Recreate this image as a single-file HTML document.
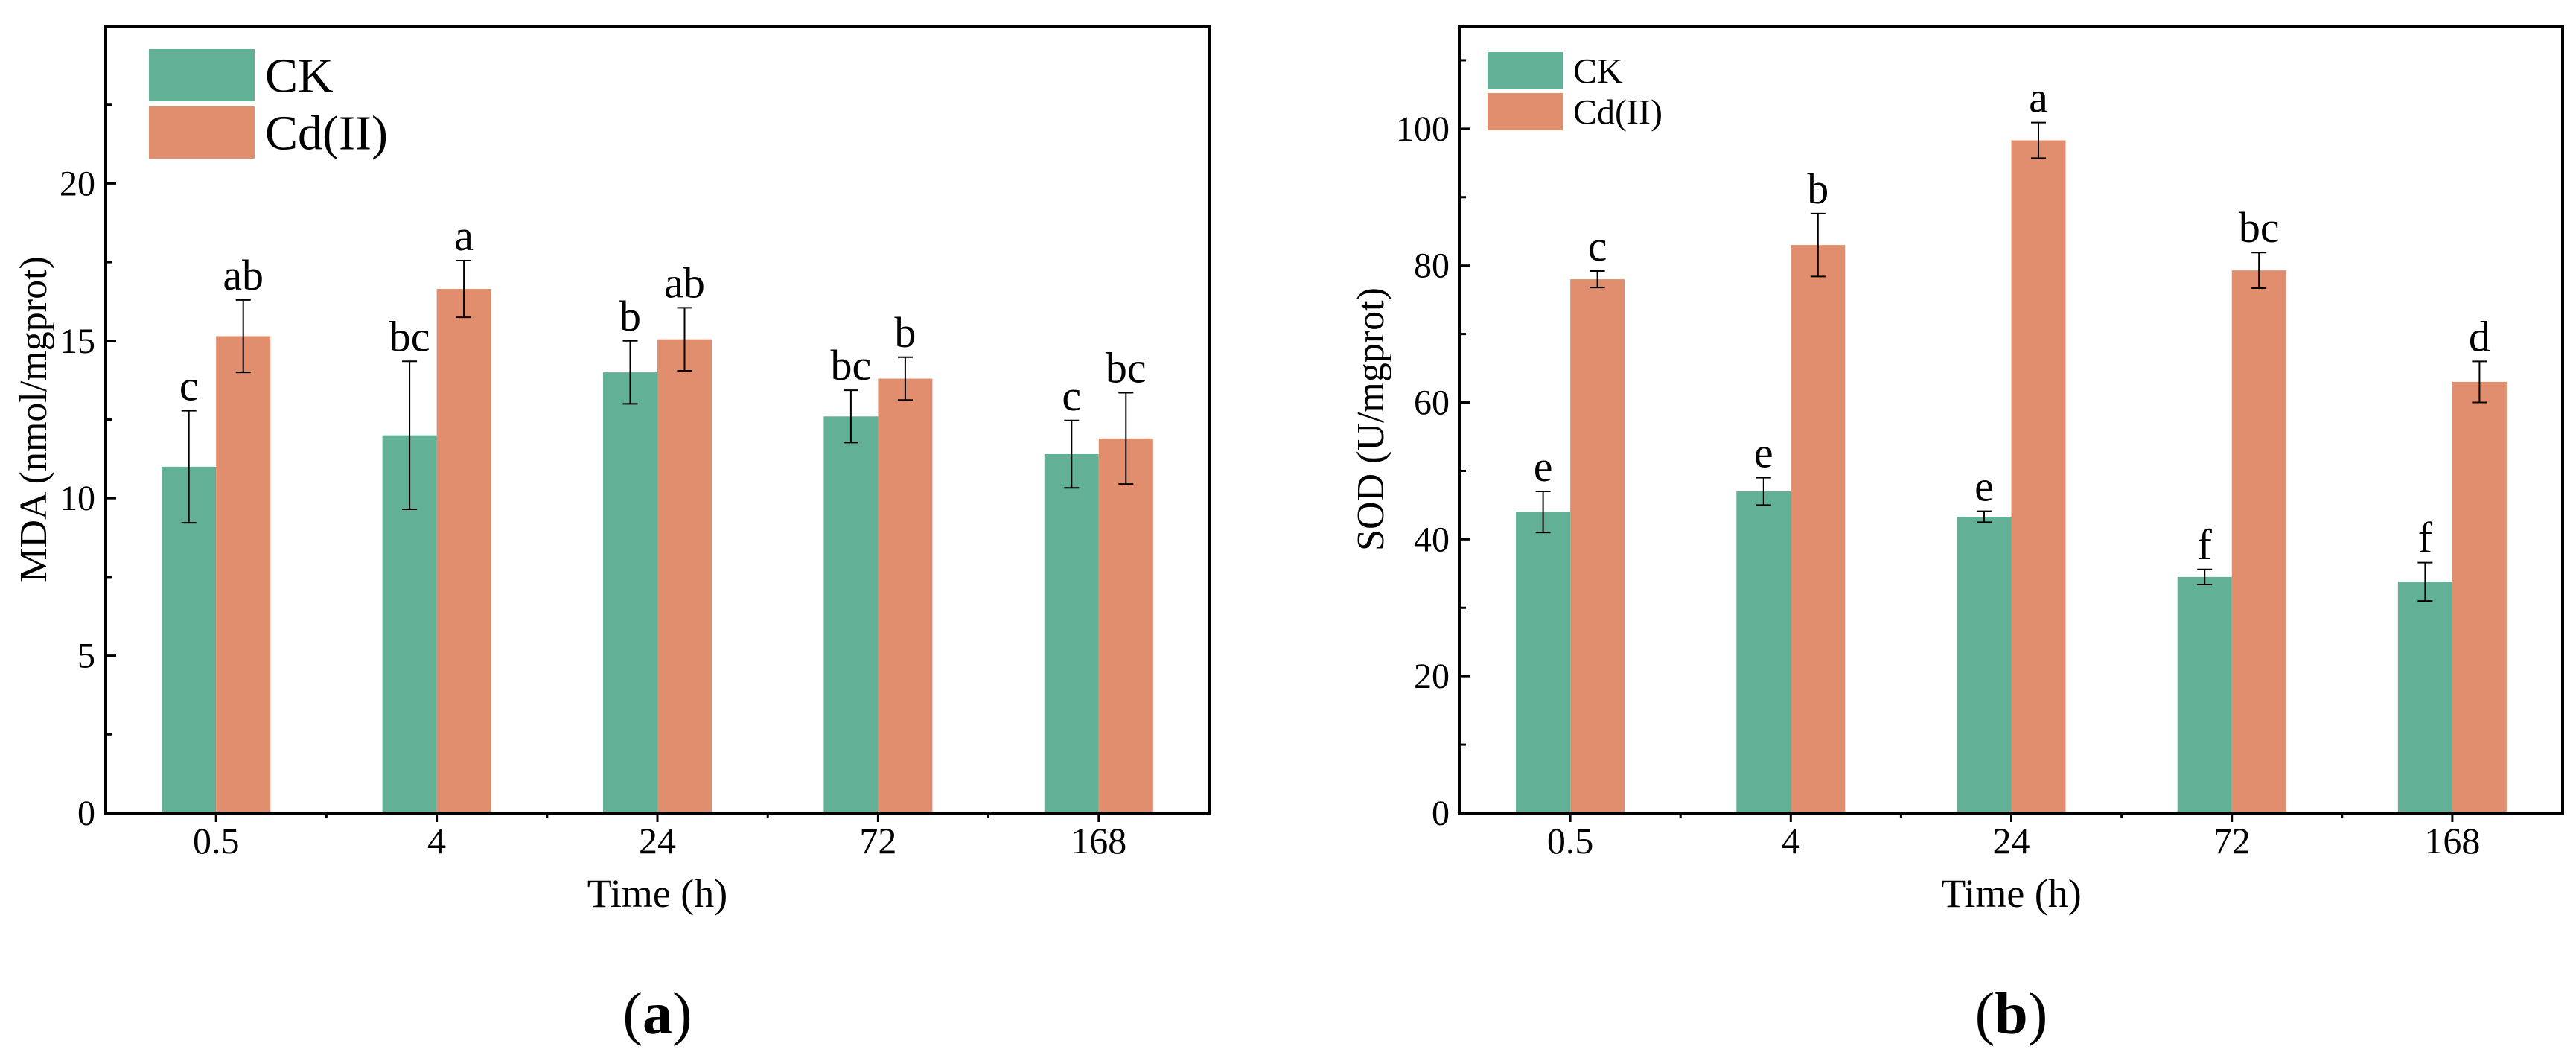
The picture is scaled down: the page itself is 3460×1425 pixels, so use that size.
<!DOCTYPE html>
<html><head><meta charset="utf-8">
<style>
html,body{margin:0;padding:0;background:#fff;}
svg{display:block;font-family:"Liberation Serif",serif;}
</style></head>
<body>
<svg id="fig" width="3460" height="1425" viewBox="0 0 3460 1425" xmlns="http://www.w3.org/2000/svg"></svg>
<script>
const categories = ["0.5","4","24","72","168"];
const mdaCK = [11.0, 12.0, 14.0, 12.6, 11.4];
const mdaCKErr = [1.78, 2.35, 1.0, 0.83, 1.07];
const mdaCd = [15.15, 16.65, 15.05, 13.8, 11.9];
const mdaCdErr = [1.15, 0.9, 1.0, 0.68, 1.45];
const mdaCKLetters = ["c","bc","b","bc","c"];
const mdaCdLetters = ["ab","a","ab","b","bc"];
const mdaTicks = [0,5,10,15,20];
const sodCK = [44.0, 47.0, 43.3, 34.5, 33.8];
const sodCKErr = [3.0, 2.0, 0.8, 1.1, 2.8];
const sodCd = [78.0, 83.0, 98.3, 79.3, 63.0];
const sodCdErr = [1.2, 4.6, 2.6, 2.6, 3.0];
const sodCKLetters = ["e","e","e","f","f"];
const sodCdLetters = ["c","b","a","bc","d"];
const sodTicks = [0,20,40,60,80,100];

const NS="http://www.w3.org/2000/svg";
const svg=document.getElementById('fig');
function mk(tag,attrs,parent,text){const e=document.createElementNS(NS,tag);for(const k in attrs)e.setAttribute(k,attrs[k]);if(text!==undefined)e.textContent=text;(parent||svg).appendChild(e);return e;}

function panel(cfg){
  const g=mk('g',{});
  
  
  const L=cfg.x0,R=cfg.x1,T=35,B=1092;
  const y=v=>B-(v/cfg.ymax)*(B-T);
  const band=(R-L)/categories.length;
  const cx=i=>L+band*(i+0.5);
  const bw=73;
  const series=[[cfg.ck,cfg.ckErr,cfg.ckL,'#62B096',-1,'ck'],[cfg.cd,cfg.cdErr,cfg.cdL,'#E08E6D',0,'cd']];
  series.forEach(s=>{
    s[0].forEach((v,i)=>{
      const x=cx(i)+s[4]*bw;
      const r=mk('rect',{x:x,y:y(v),width:bw,height:B-y(v),fill:s[3]},g);
      
      
      const mx=x+bw/2, e=s[1][i];
      const eb=mk('path',{d:`M${mx},${y(v+e)}V${y(v-e)}M${mx-10},${y(v+e)}H${mx+10}M${mx-10},${y(v-e)}H${mx+10}`,stroke:'#000','stroke-width':2,fill:'none'},g);
      
      
      const t=mk('text',{x:mx,y:y(v+e)-14,'text-anchor':'middle','font-size':58},g,s[2][i]);
      
      
    });
  });
  const f=mk('rect',{x:L,y:T,width:R-L,height:B-T,fill:'none',stroke:'#000','stroke-width':4},g);
  
  
  const step=cfg.ticks[1]-cfg.ticks[0];
  for(let v=0;v<=cfg.ymax+0.001;v+=step/2){
    const major=Math.abs(v/step-Math.round(v/step))<0.01;
    mk('line',{x1:L,x2:L+(major?14:8),y1:y(v),y2:y(v),stroke:'#000','stroke-width':3},g);
  }
  cfg.ticks.forEach(v=>{
    const t=mk('text',{x:L-14,y:y(v)+16,'text-anchor':'end','font-size':48},g,String(v));
    
    
  });
  categories.forEach((c,i)=>{
    mk('line',{x1:cx(i),x2:cx(i),y1:B,y2:B+12,stroke:'#000','stroke-width':3},g);
    if(i>0)mk('line',{x1:L+band*i,x2:L+band*i,y1:B,y2:B+7,stroke:'#000','stroke-width':3},g);
    const t=mk('text',{x:cx(i),y:1146,'text-anchor':'middle','font-size':50},g,c);
    
    
  });
  const xt=mk('text',{x:(L+R)/2,y:1218,'text-anchor':'middle','font-size':54},g,'Time (h)');
  
  
  const yt=mk('text',{x:0,y:0,'text-anchor':'middle','font-size':52,transform:`translate(${cfg.ytx},563) rotate(-90)`},g,cfg.ytitle);
  
  
  const lg=cfg.legend;
  [['CK','#62B096',lg.y1],['Cd(II)','#E08E6D',lg.y2]].forEach(it=>{
    const r=mk('rect',{x:lg.x,y:it[2],width:lg.w,height:lg.h,fill:it[1]},g);
    
    
    const t=mk('text',{x:lg.x+lg.w+14,y:it[2]+lg.h/2+lg.fs*0.34,'font-size':lg.fs},g,it[0]);
    
    
  });
  const cap=mk('text',{x:(L+R)/2,y:1388,'text-anchor':'middle','font-size':80},g);
  
  
  mk('tspan',{},cap,'(');
  mk('tspan',{'font-weight':'bold'},cap,cfg.letter);
  mk('tspan',{},cap,')');
}
panel({name:'mda-chart',x0:142,x1:1624,ymax:25,ck:mdaCK,ckErr:mdaCKErr,cd:mdaCd,cdErr:mdaCdErr,ckL:mdaCKLetters,cdL:mdaCdLetters,ticks:mdaTicks,ytitle:'MDA (nmol/mgprot)',ytx:62,letter:'a',legend:{x:200,y1:66,y2:143,w:142,h:70,fs:66}});
panel({name:'sod-chart',x0:1961,x1:3442,ymax:115,ck:sodCK,ckErr:sodCKErr,cd:sodCd,cdErr:sodCdErr,ckL:sodCKLetters,cdL:sodCdLetters,ticks:sodTicks,ytitle:'SOD (U/mgprot)',ytx:1858,letter:'b',legend:{x:1998,y1:70,y2:125,w:101,h:50,fs:48}});
</script>
</body></html>
